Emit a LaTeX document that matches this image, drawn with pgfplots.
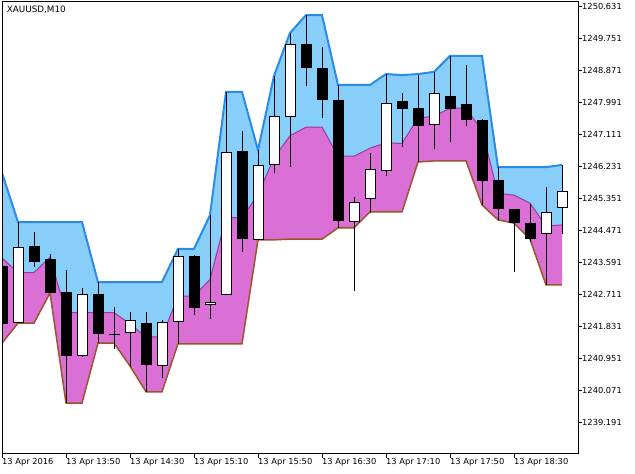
\documentclass[border=0pt]{standalone}
\usepackage{pgfplots}
\pgfplotsset{compat=1.18}
\usepgfplotslibrary{fillbetween}
\usepackage{pgfplotstable}
\usepackage{fontspec}
\setmainfont{DejaVu Sans}
\definecolor{upline}{HTML}{2A8CE8}
\definecolor{upfill}{HTML}{87CEFA}
\definecolor{lofill}{HTML}{DA70D6}
\definecolor{midline}{HTML}{9A3A9E}
\definecolor{loline}{HTML}{A0522D}

\pgfplotstableread{
k U M L
0 1246.04 1243.70 1241.36
1 1244.69 1243.30 1241.91
2 1244.69 1243.30 1241.91
3 1244.69 1243.72 1242.74
4 1244.69 1242.20 1239.71
5 1244.69 1242.20 1239.71
6 1243.04 1242.20 1241.36
7 1243.04 1242.20 1241.36
8 1243.04 1241.89 1240.73
9 1243.04 1241.53 1240.02
10 1243.04 1241.53 1240.02
11 1243.95 1242.65 1241.34
12 1243.95 1242.65 1241.34
13 1244.88 1243.11 1241.34
14 1248.27 1244.81 1241.34
15 1248.27 1244.81 1241.34
16 1246.67 1245.44 1244.20
17 1248.71 1246.46 1244.20
18 1249.89 1247.06 1244.22
19 1250.38 1247.30 1244.22
20 1250.38 1247.30 1244.22
21 1248.46 1246.50 1244.53
22 1248.46 1246.50 1244.53
23 1248.46 1246.72 1244.97
24 1248.76 1246.87 1244.97
25 1248.73 1246.85 1244.97
26 1248.76 1247.55 1246.34
27 1248.82 1247.60 1246.37
28 1249.26 1247.82 1246.37
29 1249.26 1247.82 1246.37
30 1249.26 1247.21 1245.16
31 1246.20 1245.48 1244.75
32 1246.20 1245.43 1244.66
33 1246.20 1245.21 1244.22
34 1246.20 1244.58 1242.96
35 1246.26 1244.61 1242.96
}\chan

% white (bullish) candles
\pgfplotstableread{
k O H L C
1 1241.91 1244.69 1241.91 1244.00
5 1241.01 1242.88 1240.98 1242.71
8 1241.64 1242.22 1240.70 1242.00
10 1240.73 1242.00 1240.40 1241.94
11 1241.94 1243.95 1241.34 1243.76
13 1242.41 1244.88 1242.02 1242.49
14 1242.68 1248.27 1242.68 1246.62
16 1244.20 1246.67 1244.20 1246.26
17 1246.26 1248.71 1246.04 1247.61
18 1247.58 1249.89 1246.20 1249.59
22 1244.69 1245.38 1242.79 1245.24
23 1245.32 1246.59 1244.94 1246.15
24 1246.09 1248.76 1245.96 1247.96
27 1247.36 1248.82 1246.70 1248.24
34 1244.36 1245.65 1242.96 1244.97
35 1245.08 1246.26 1244.36 1245.54
}\bull

% black (bearish) candles
\pgfplotstableread{
k O H L C
0 1243.48 1243.59 1241.72 1241.89
2 1244.03 1244.42 1243.45 1243.59
3 1243.67 1243.81 1242.74 1242.74
4 1242.77 1243.37 1239.71 1241.01
6 1242.71 1243.04 1241.36 1241.61
7 1241.62 1242.35 1241.20 1241.60
9 1241.91 1242.22 1240.02 1240.76
12 1243.76 1243.78 1242.13 1242.33
15 1246.64 1247.19 1243.87 1244.22
19 1249.59 1250.38 1248.43 1248.93
20 1248.93 1249.50 1247.55 1248.05
21 1248.05 1248.46 1244.53 1244.72
25 1248.02 1248.24 1246.75 1247.80
26 1247.83 1248.73 1246.34 1247.33
28 1248.16 1249.26 1246.89 1247.80
29 1247.94 1249.01 1247.33 1247.50
30 1247.50 1247.52 1245.16 1245.82
31 1245.85 1246.20 1244.75 1245.05
32 1245.05 1245.05 1243.32 1244.66
33 1244.66 1245.19 1244.14 1244.22
}\bear

\pgfplotsset{
  candle/.style n args={2}{draw=none, mark=none, forget plot,
    error bars/.cd, y dir=plus, y explicit, error mark=none,
    error bar style={solid, draw=#1, line width=#2}},
}

\begin{document}
\begin{tikzpicture}
\path (0,0) rectangle (635bp,474bp);
\begin{axis}[
  at={(2bp,20bp)}, anchor=south west,
  scale only axis, width=576bp, height=452bp,
  xmin=0, xmax=36, ymin=1238.311, ymax=1250.741,
  axis on top,
  axis line style={black, line width=1bp},
  tick align=outside, xtick pos=bottom, ytick pos=right, yticklabel pos=right,
  major tick length=4bp,
  tick style={black, line width=0.8bp},
  xtick={0,4,8,12,16,20,24,28,32},
  xticklabels={13 Apr 2016, 13 Apr 13:50, 13 Apr 14:30, 13 Apr 15:10, 13 Apr 15:50, 13 Apr 16:30, 13 Apr 17:10, 13 Apr 17:50, 13 Apr 18:30},
  ytick={1239.191,1240.071,1240.951,1241.831,1242.711,1243.591,1244.471,1245.351,1246.231,1247.111,1247.991,1248.871,1249.751,1250.631},
  yticklabels={1239.191,1240.071,1240.951,1241.831,1242.711,1243.591,1244.471,1245.351,1246.231,1247.111,1247.991,1248.871,1249.751,1250.631},
  tick label style={font=\fontsize{8.3bp}{10bp}\selectfont},
  xticklabel style={anchor=north west, inner sep=0pt},
  yticklabel style={anchor=west, inner sep=0pt},
]
\addplot[draw=none, name path=U, forget plot] table[x=k, y=U]{\chan};
\addplot[draw=none, name path=M, forget plot] table[x=k, y=M]{\chan};
\addplot[draw=none, name path=L, forget plot] table[x=k, y=L]{\chan};
\addplot[upfill, forget plot] fill between[of=U and M];
\addplot[lofill, forget plot] fill between[of=M and L];
\addplot[upline, line width=2bp, forget plot] table[x=k, y=U]{\chan};
\addplot[midline, line width=1bp, forget plot] table[x=k, y=M]{\chan};
\addplot[loline, line width=1.5bp, forget plot] table[x=k, y=L]{\chan};
% wicks
\addplot[candle={black}{1bp}]
  table[x=k, y=L, y error expr=\thisrow{H}-\thisrow{L}]{\bull};
\addplot[candle={black}{1bp}]
  table[x=k, y=L, y error expr=\thisrow{H}-\thisrow{L}]{\bear};
% black bodies
\addplot[candle={black}{11bp}]
  table[x=k, y=C, y error expr=\thisrow{O}-\thisrow{C}]{\bear};
% white bodies: outline then fill
\addplot[candle={black}{11bp}]
  table[x=k, y=O, y error expr=\thisrow{C}-\thisrow{O}]{\bull};
\addplot[candle={white}{9bp}]
  table[x=k, y expr=\thisrow{O}+0.0275, y error expr=\thisrow{C}-\thisrow{O}-0.055]{\bull};
\node[anchor=north west, inner sep=0pt, font=\fontsize{8.8bp}{10bp}\selectfont, xshift=4.7bp, yshift=-4bp] at (rel axis cs:0,1) {XAUUSD,M10};
\end{axis}
\end{tikzpicture}
\end{document}
